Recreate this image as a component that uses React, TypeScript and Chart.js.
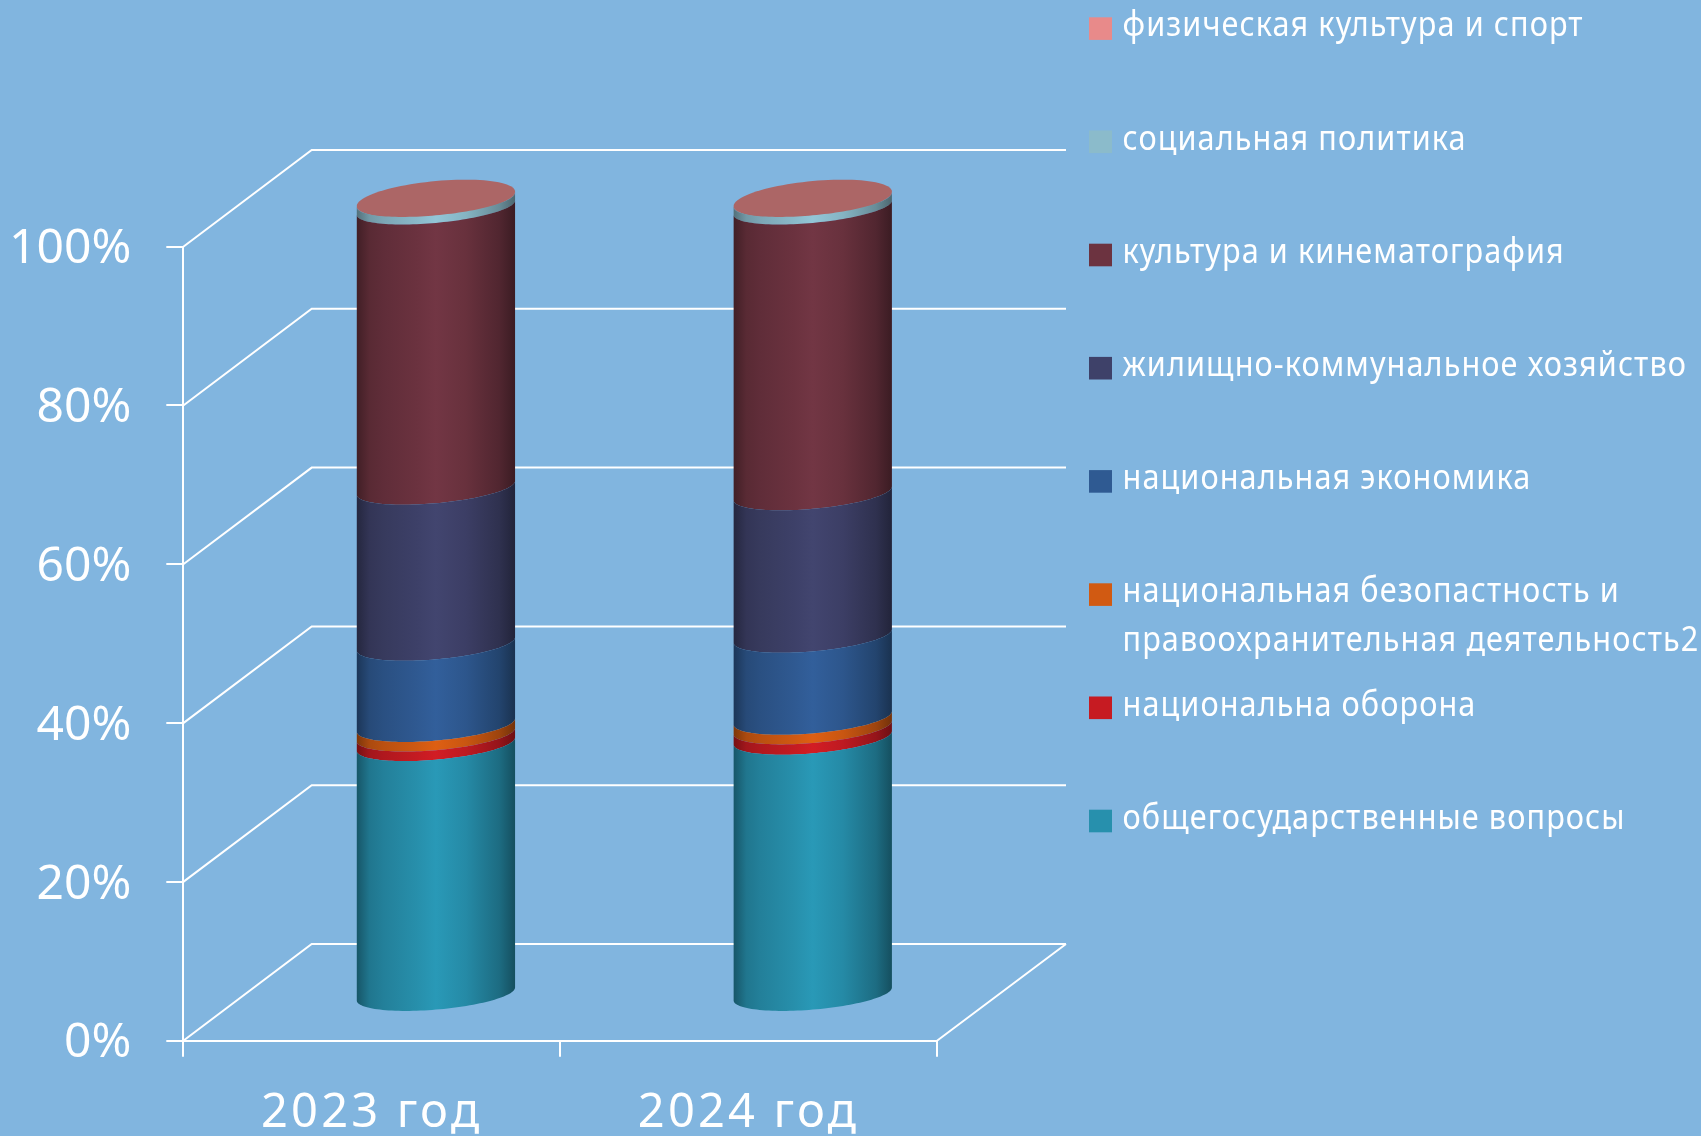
import React, { useEffect, useRef } from "react";
import { Chart, registerables } from "chart.js";

Chart.register(...registerables);

const categories = ["2023 год", "2024 год"];
const obshchegos = [31.5, 32.3];
const oborona = [1.2, 1.3];
const bezopasnost = [1.2, 1.2];
const ekonomika = [10.2, 10.3];
const zhkh = [19.6, 17.9];
const kultura = [35.2, 35.9];
const socialnaya = [0.95, 0.95];
const sport = [0.15, 0.15];
const yTicks = [0, 20, 40, 60, 80, 100];

const seriesNames = [
  ["общегосударственные вопросы"],
  ["национальна оборона"],
  ["национальная безопастность и", "правоохранительная деятельность2"],
  ["национальная экономика"],
  ["жилищно-коммунальное хозяйство"],
  ["культура и кинематография"],
  ["социальная политика"],
  ["физическая культура и спорт"],
];
const seriesValues = [obshchegos, oborona, bezopasnost, ekonomika, zhkh, kultura, socialnaya, sport];
const seriesColors = ["#2790AD", "#C61B22", "#D15A12", "#2F5A92", "#3E4169", "#6C3340", "#8BBBCB", "#E88A8A"];

const BG = "#81B5DF";
const W = 1701;
const H = 1136;
const DEPTH_X = 128.4;
const DEPTH_Y = 96.7;
const WALL_RIGHT = 1066;
const LEGEND_FONT = "Noto Sans";
const AXIS_FONT = "Noto Sans";

const lerp = (a: number, b: number, f: number) => a + (b - a) * f;

function rgb(hex: string, f: number) {
  const n = parseInt(hex.slice(1), 16);
  const c = [(n >> 16) & 255, (n >> 8) & 255, n & 255].map((v) => Math.min(255, Math.round(v * f)));
  return `rgb(${c[0]},${c[1]},${c[2]})`;
}

const shadeStops: [number, number][] = [
  [0, 0.6],
  [0.08, 0.82],
  [0.17, 0.89],
  [0.38, 0.99],
  [0.5, 1.06],
  [0.69, 0.96],
  [0.9, 0.75],
  [1, 0.55],
];

function ellipseAt(chart: any, px: number) {
  const y = chart.scales.y;
  const y0 = y.getPixelForValue(0);
  const y1 = y.getPixelForValue(100);
  const f = (y0 - px) / (y0 - y1);
  const k = lerp(6.5, 7.2, f);
  const ext = f > 0.999 ? 19.2 : 16.9;
  return { cy: px - lerp(45.7, 47.85, f), k, b: Math.sqrt(ext * ext - k * k) };
}

function frontArc(ctx: CanvasRenderingContext2D, cx: number, a: number, e: any, reverse: boolean, first: boolean) {
  const N = 64;
  for (let i = 0; i <= N; i++) {
    const t = Math.PI * (reverse ? i / N : 1 - i / N);
    const x = cx + a * Math.cos(t);
    const yy = e.cy - e.k * Math.cos(t) + e.b * Math.sin(t);
    if (i === 0 && first) ctx.moveTo(x, yy);
    else ctx.lineTo(x, yy);
  }
}

const cylinderPlugin = {
  id: "cylinders",
  beforeDatasetDraw(chart: any, args: any) {
    const ctx: CanvasRenderingContext2D = chart.ctx;
    const color = seriesColors[args.index];
    args.meta.data.forEach((bar: any) => {
      const cx = bar.x + DEPTH_X / 2;
      const a = bar.width / 2;
      const lo = ellipseAt(chart, bar.base);
      const hi = ellipseAt(chart, bar.y);
      const g = ctx.createLinearGradient(cx - a, 0, cx + a, 0);
      shadeStops.forEach(([s, f]) => g.addColorStop(s, rgb(color, f)));
      ctx.save();
      ctx.beginPath();
      frontArc(ctx, cx, a, lo, false, true);
      frontArc(ctx, cx, a, hi, true, false);
      ctx.closePath();
      ctx.fillStyle = g;
      ctx.fill();
      if (args.index === seriesColors.length - 1) {
        ctx.beginPath();
        const N = 96;
        for (let i = 0; i <= N; i++) {
          const t = (2 * Math.PI * i) / N;
          const x = cx + a * Math.cos(t);
          const yy = hi.cy - hi.k * Math.cos(t) + hi.b * Math.sin(t);
          if (i === 0) ctx.moveTo(x, yy);
          else ctx.lineTo(x, yy);
        }
        ctx.closePath();
        ctx.fillStyle = rgb(color, 0.74);
        ctx.fill();
      }
      ctx.restore();
    });
    return false;
  },
};

const wallsPlugin = {
  id: "walls",
  beforeDatasetsDraw(chart: any) {
    const ctx: CanvasRenderingContext2D = chart.ctx;
    const { left, right, bottom } = chart.chartArea;
    ctx.save();
    ctx.strokeStyle = "#FFFFFF";
    ctx.lineWidth = 2;
    ctx.beginPath();
    yTicks.forEach((v) => {
      const p = chart.scales.y.getPixelForValue(v);
      ctx.moveTo(left, p);
      ctx.lineTo(left + DEPTH_X, p - DEPTH_Y);
      ctx.lineTo(WALL_RIGHT, p - DEPTH_Y);
    });
    ctx.moveTo(right, bottom);
    ctx.lineTo(WALL_RIGHT, bottom - DEPTH_Y);
    ctx.stroke();
    ctx.restore();
  },
};

const spacingPlugin = {
  id: "xLabelSpacing",
  afterLayout(chart: any) {
    const x = chart.scales.x;
    if (x.__spaced) return;
    const orig = x.drawLabels;
    x.drawLabels = function (area: any) {
      chart.ctx.letterSpacing = "3.2px";
      orig.call(this, area);
      chart.ctx.letterSpacing = "0px";
    };
    x.__spaced = true;
  },
};

const legendPlugin = {
  id: "sideLegend",
  afterDraw(chart: any) {
    const ctx: CanvasRenderingContext2D = chart.ctx;
    const sets = chart.data.datasets;
    const boxX = 1089;
    const textX = 1122.5;
    const top = 17.3;
    const step = 113.2;
    const scaleX = 0.9;
    ctx.save();
    for (let i = sets.length - 1, row = 0; i >= 0; i--, row++) {
      const y = top + row * step;
      ctx.fillStyle = sets[i].backgroundColor;
      ctx.fillRect(boxX, y, 23, 22.6);
      ctx.fillStyle = "#FFFFFF";
      ctx.font = `34px "${LEGEND_FONT}"`;
      ctx.textBaseline = "alphabetic";
      ctx.textAlign = "left";
      seriesNames[i].forEach((line, l) => {
        ctx.save();
        (ctx as any).letterSpacing = "1.22px";
        ctx.translate(textX, y + 19 + l * 49);
        ctx.scale(scaleX, 1);
        ctx.fillText(line, 0, 0);
        ctx.restore();
      });
    }
    ctx.restore();
  },
};

export default function App() {
  const ref = useRef<HTMLCanvasElement | null>(null);
  useEffect(() => {
    document.body.style.margin = "0";
    document.body.style.background = BG;
    const chart = new Chart(ref.current as HTMLCanvasElement, {
      type: "bar",
      data: {
        labels: categories,
        datasets: seriesValues.map((data, i) => ({
          label: seriesNames[i].join(" "),
          data,
          backgroundColor: seriesColors[i],
          barPercentage: 0.42,
          categoryPercentage: 1,
        })),
      },
      options: {
        responsive: false,
        devicePixelRatio: 1,
        animation: false,
        layout: { autoPadding: false, padding: { top: 246.7, left: 0, right: W - 937, bottom: 0 } },
        plugins: { legend: { display: false }, tooltip: { enabled: false }, title: { display: false } },
        scales: {
          x: {
            stacked: true,
            afterFit: (s: any) => {
              s.height = H - 1040.7;
            },
            border: { display: true, color: "#FFFFFF", width: 2 },
            grid: { display: true, offset: true, drawOnChartArea: false, drawTicks: true, tickLength: 16, color: "#FFFFFF", lineWidth: 2 },
            ticks: { color: "#FFFFFF", font: { family: AXIS_FONT, size: 47 }, padding: 29, maxRotation: 0 },
          },
          y: {
            stacked: true,
            min: 0,
            max: 100,
            afterFit: (s: any) => {
              s.width = 183.3;
            },
            border: { display: true, color: "#FFFFFF", width: 2 },
            grid: { display: true, drawOnChartArea: false, drawTicks: true, tickLength: 17, color: "#FFFFFF", lineWidth: 2 },
            ticks: {
              stepSize: 20,
              color: "#FFFFFF",
              font: { family: AXIS_FONT, size: 48 },
              padding: 35,
              labelOffset: 3,
              callback: (v: any) => `${v}%`,
            },
          },
        },
      },
      plugins: [wallsPlugin, cylinderPlugin, legendPlugin, spacingPlugin],
    } as any);
    return () => chart.destroy();
  }, []);
  return (
    <div style={{ position: "absolute", left: 0, top: 0, width: W, height: H, background: BG, overflow: "hidden" }}>
      <canvas ref={ref} width={W} height={H} style={{ display: "block", width: W, height: H }} />
    </div>
  );
}
